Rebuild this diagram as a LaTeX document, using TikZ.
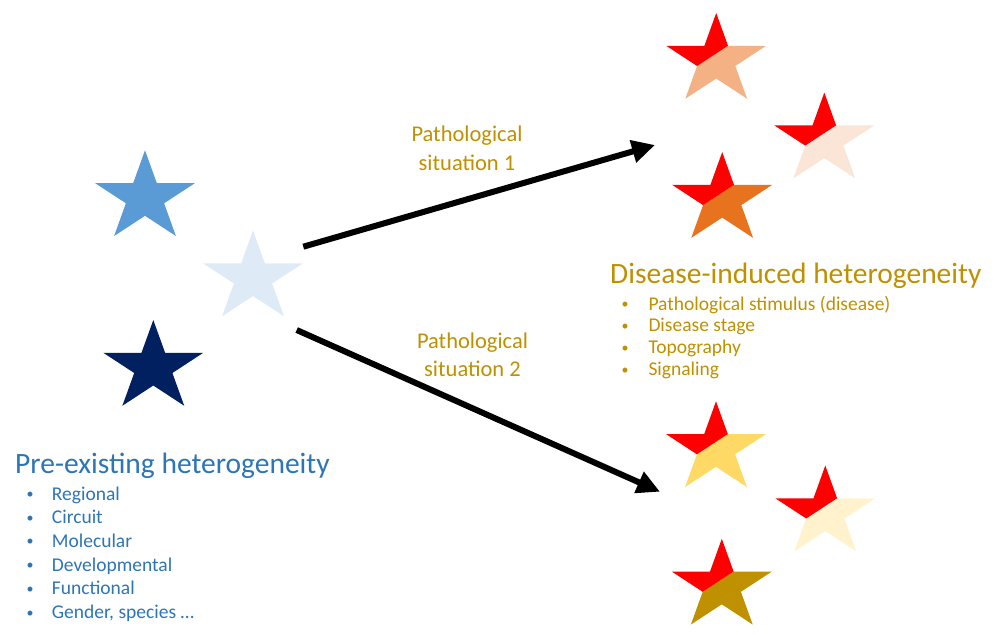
\documentclass[tikz,border=0pt]{standalone}
\usepackage{fontspec}
\setmainfont{Carlito}
\usetikzlibrary{arrows.meta}
\definecolor{bluetxt}{HTML}{2E75B6}
\definecolor{goldtxt}{HTML}{BF9000}
\definecolor{starblue}{HTML}{5B9BD5}
\definecolor{starlight}{HTML}{DEEBF7}
\definecolor{stardark}{HTML}{002060}
\definecolor{cpeach}{HTML}{F4B183}
\definecolor{cblush}{HTML}{FBE5D6}
\definecolor{corange}{HTML}{E8731E}
\definecolor{cyellow}{HTML}{FFD966}
\definecolor{ccream}{HTML}{FFF2CC}
\definecolor{cgold}{HTML}{BF9000}
\definecolor{cred}{HTML}{FF0000}
\tikzset{
  pics/onestar/.style={code={
    \fill[#1] (0,-1) -- (0.2245,-0.309) -- (0.9511,-0.309) -- (0.3633,0.118) -- (0.5878,0.809)
      -- (0,0.382) -- (-0.5878,0.809) -- (-0.3633,0.118) -- (-0.9511,-0.309) -- (-0.2245,-0.309) -- cycle;
  }},
  pics/bistar/.style={code={
    \fill[#1] (0.2245,-0.309) -- (0.9511,-0.309) -- (0.3633,0.118) -- (0.5878,0.809)
      -- (0,0.382) -- (-0.5878,0.809) -- (-0.3633,0.118) -- cycle;
    \fill[cred] (0.2245,-0.309) -- (0,-1) -- (-0.2245,-0.309) -- (-0.9511,-0.309) -- (-0.3633,0.118) -- cycle;
  }},
  starsize/.style={xscale=52.6,yscale=47.4},
  bigarrow/.style={line width=6pt, draw=black, -{Triangle[length=23pt,width=22pt]}},
  headB/.style={anchor=base west, inner sep=0pt, text=bluetxt, font=\fontsize{29.5}{35}\selectfont},
  itemB/.style={anchor=base west, inner sep=0pt, text=bluetxt, font=\fontsize{19.5}{23}\selectfont},
  bulB/.style={anchor=base, inner sep=0pt, text=bluetxt, font=\fontsize{14}{16}\selectfont},
  headG/.style={anchor=base west, inner sep=0pt, text=goldtxt, font=\fontsize{29.5}{35}\selectfont},
  itemG/.style={anchor=base west, inner sep=0pt, text=goldtxt, font=\fontsize{19.5}{23}\selectfont},
  bulG/.style={anchor=base, inner sep=0pt, text=goldtxt, font=\fontsize{14}{16}\selectfont},
  situ/.style={anchor=base, inner sep=0pt, text=goldtxt, font=\fontsize{22.5}{27}\selectfont},
}
\begin{document}
\begin{tikzpicture}[x=1pt,y=-1pt]
\useasboundingbox (0,0) rectangle (997,635);

% left stars
\pic[starsize] at (145,197.7) {onestar=starblue};
\pic[starsize] at (253,277.9) {onestar=starlight};
\pic[starsize] at (153.3,367.4) {onestar=stardark};

% right stars, top group
\pic[starsize] at (716.2,60.4) {bistar=cpeach};
\pic[starsize] at (824.3,140) {bistar=cblush};
\pic[starsize] at (722.2,199.5) {bistar=corange};
% right stars, bottom group
\pic[starsize] at (716,448.7) {bistar=cyellow};
\pic[starsize] at (825.3,512.9) {bistar=ccream};
\pic[starsize] at (721.8,586.2) {bistar=cgold};

% arrows
\coordinate (a1s) at (303.3,246.7);
\coordinate (a1e) at (655,145);
\coordinate (a2s) at (296.7,330);
\coordinate (a2e) at (660,491.7);
\draw[bigarrow] (a1s) -- (a1e);
\draw[bigarrow] (a2s) -- (a2e);

% arrow labels
\node[situ] (s1a) at (467,141.7) {Pathological};
\node[situ] (s1b) at (467,170) {situation 1};
\node[situ] (s2a) at (472.5,348.3) {Pathological};
\node[situ] (s2b) at (472.5,376.5) {situation 2};

% pre-existing
\node[headB] (preh) at (15,473.3) {Pre-existing heterogeneity};
\node[bulB] (pb1) at (30,498.5) {•};   \node[itemB] (pi1) at (51.7,500) {Regional};
\node[bulB] (pb2) at (30,522.2) {•}; \node[itemB] (pi2) at (51.7,523.7) {Circuit};
\node[bulB] (pb3) at (30,545.9) {•}; \node[itemB] (pi3) at (51.7,547.4) {Molecular};
\node[bulB] (pb4) at (30,569.6) {•}; \node[itemB] (pi4) at (51.7,571.1) {Developmental};
\node[bulB] (pb5) at (30,593.3) {•}; \node[itemB] (pi5) at (51.7,594.8) {Functional};
\node[bulB] (pb6) at (30,617.0) {•}; \node[itemB] (pi6) at (51.7,618.5) {Gender, species …};

% disease-induced
\node[headG] (dish) at (610,283.3) {Disease-induced heterogeneity};
\node[bulG] (db1) at (625,308.5) {•};   \node[itemG] (di1) at (648.3,310) {Pathological stimulus (disease)};
\node[bulG] (db2) at (625,330.4) {•}; \node[itemG] (di2) at (648.3,331.9) {Disease stage};
\node[bulG] (db3) at (625,352.3) {•}; \node[itemG] (di3) at (648.3,353.8) {Topography};
\node[bulG] (db4) at (625,374.2) {•}; \node[itemG] (di4) at (648.3,375.7) {Signaling};
\end{tikzpicture}
\end{document}
